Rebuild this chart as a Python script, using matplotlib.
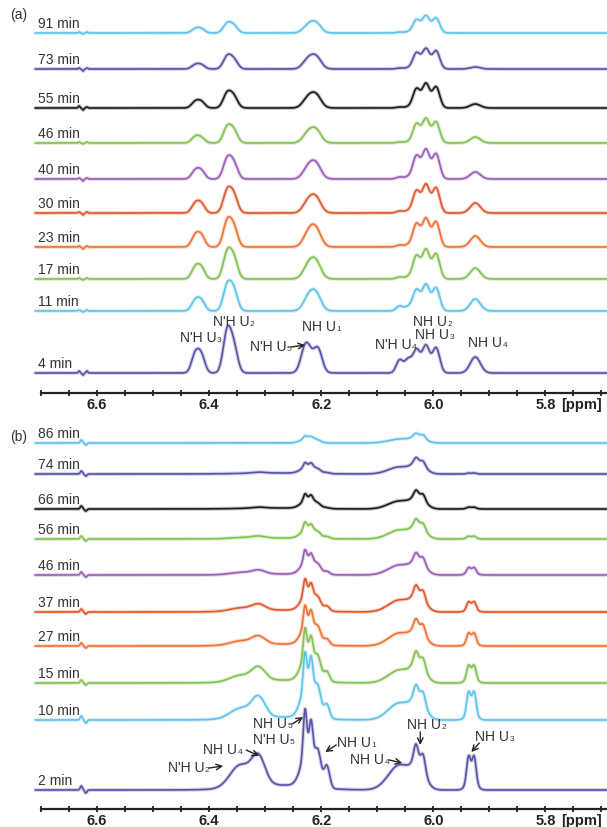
import numpy as np
import matplotlib.pyplot as plt

plt.rcParams['font.family'] = ['Liberation Sans', 'DejaVu Sans']

# ---- panel (a): peak centres [ppm], widths (sigma) and heights per spectrum
a_pos = [6.632, 6.625, 6.618, 6.425, 6.414, 6.368, 6.356, 6.228, 6.215, 6.205,
         6.060, 6.045, 6.030, 6.013, 5.995, 5.925]
a_wid = [0.0015, 0.0015, 0.0015, 0.0065, 0.0065, 0.007, 0.007, 0.008, 0.011, 0.007,
         0.006, 0.006, 0.0065, 0.0065, 0.0065, 0.009]
a_labels = ['91 min', '73 min', '55 min', '46 min', '40 min',
            '30 min', '23 min', '17 min', '11 min', '4 min']
a_91 = [1, -1, 1, 4, 4, 9, 7, 2, 11, 2, 1, 1, 13, 17, 15, 0]
a_73 = [1, -2, 1, 4, 4, 12, 9, 3, 13, 3, 1, 1, 16, 20, 18, 2]
a_55 = [2, -2, 1, 6, 6, 14, 11, 3, 14, 3, 1, 1, 19, 24, 21, 4]
a_46 = [1, -1, 1, 6, 5, 15, 12, 3, 14, 3, 1, 1, 19, 24, 21, 6]
a_40 = [1, -2, 1, 8, 8, 19, 15, 3, 17, 3, 2, 2, 23, 29, 25, 7]
a_30 = [1, -2, 1, 9, 9, 21, 17, 3, 17, 3, 2, 2, 22, 28, 25, 10]
a_23 = [1, -2, 1, 11, 11, 24, 19, 3, 21, 3, 2, 2, 23, 28, 25, 11]
a_17 = [1, -1, 1, 11, 11, 25, 20, 3, 20, 3, 2, 2, 23, 29, 25, 11]
a_11 = [1, -1, 1, 10, 10, 24, 20, 3, 20, 3, 5, 4, 21, 26, 23, 12]
a_4 = [2, -2, 2, 18, 17, 40, 25, 24, 12, 17, 13, 13, 23, 27, 25, 16]

# ---- panel (b)
b_pos = [6.628, 6.620, 6.280, 6.345, 6.312, 6.222, 6.229, 6.218, 6.205, 6.190,
         6.060, 6.026, 6.031, 6.018, 5.932, 5.937, 5.927]
b_wid = [0.002, 0.002, 0.060, 0.018, 0.012, 0.012, 0.003, 0.003, 0.005, 0.005,
         0.020, 0.012, 0.004, 0.004, 0.008, 0.0035, 0.0035]
b_labels = ['86 min', '74 min', '66 min', '56 min', '46 min',
            '37 min', '27 min', '15 min', '10 min', '2 min']
b_86 = [3, -2, 0, 0, 0, 6, 2, 1, 1, 0, 4, 6, 3, 3, 0, 0, 0]
b_74 = [3, -2, 1, 0, 1, 8, 4, 3, 2, 1, 7, 10, 5, 4, 0, 1, 1]
b_66 = [3, -2, 1, 0, 1, 10, 6, 4, 2, 1, 8, 11, 6, 5, 1, 1, 1]
b_56 = [3, -2, 1, 1, 2, 11, 7, 4, 3, 2, 9, 12, 6, 5, 1, 2, 2]
b_46 = [3, -2, 1, 2, 4, 16, 11, 6, 5, 3, 10, 13, 7, 6, 3, 5, 5]
b_37 = [3, -2, 2, 3, 6, 20, 15, 9, 7, 5, 12, 15, 9, 8, 4, 7, 7]
b_27 = [3, -2, 2, 4, 8, 24, 19, 12, 10, 6, 13, 15, 9, 8, 5, 9, 9]
b_15 = [3, -2, 3, 6, 13, 32, 26, 15, 14, 10, 13, 18, 11, 9, 7, 12, 12]
b_10 = [4, -3, 3, 10, 20, 40, 32, 24, 18, 14, 17, 20, 11, 10, 10, 20, 20]
b_2 = [4, -3, 5, 22, 28, 42, 42, 27, 22, 22, 25, 22, 17, 15, 12, 24, 24]

LB, SB, BK, GR, PU, RD, OR = ('#5ec3ec', '#5652a6', '#1a1a1a', '#82c250',
                              '#9b5cb8', '#e1572b', '#f07234')
colors = [LB, SB, BK, GR, PU, RD, OR, GR, LB, SB]

a_rows = [a_91, a_73, a_55, a_46, a_40, a_30, a_23, a_17, a_11, a_4]
b_rows = [b_86, b_74, b_66, b_56, b_46, b_37, b_27, b_15, b_10, b_2]
a_off = [360, 324, 285, 250, 214, 180, 146, 114, 82, 20]
b_off = [366, 335, 300, 270, 234, 197, 163, 126, 89, 19]

W, H = 607, 827
fig = plt.figure(figsize=(W / 100, H / 100), dpi=100)
x = np.linspace(6.71, 5.68, 2000)


def spectrum(pos, wid, hts):
    y = np.zeros_like(x)
    for p, w, h in zip(pos, wid, hts):
        y += h * np.exp(-0.5 * ((x - p) / w) ** 2)
    return y


def px2ppm(px):
    return 6.70 - (px - 41) / 560


def make_axes(top_px, axis_px):
    ax = fig.add_axes([41 / W, (H - axis_px) / H, 566 / W, (axis_px - top_px) / H])
    ax.set_xlim(6.70, 5.69)
    ax.set_ylim(0, axis_px - top_px)
    for s in ['top', 'left', 'right']:
        ax.spines[s].set_visible(False)
    ax.spines['bottom'].set_linewidth(1.6)
    ax.spines['bottom'].set_color('#222222')
    ax.set_yticks([])
    ticks = np.arange(5.70, 6.701, 0.05)
    ax.set_xticks(ticks)
    ax.set_xticklabels([f'{v:.1f}' if abs(round(v * 5) - v * 5) < 1e-6 else ''
                        for v in ticks])
    ax.tick_params(axis='x', direction='inout', length=5, width=1.3,
                   color='#222222', labelsize=10.5, pad=1, labelcolor='#222222')
    for t in ax.get_xticklabels():
        t.set_fontweight('bold')
    ax.text(5.772, -12, '[ppm]', fontsize=10.5, fontweight='bold', color='#222222',
            ha='left', va='center', clip_on=False)
    ax.patch.set_alpha(0)
    return ax


def draw(ax, pos, wid, rows, offs, labels):
    for hts, off, c, lab in zip(rows, offs, colors, labels):
        y = spectrum(pos, wid, hts) + off
        ax.plot(x, y, color=c, lw=2.8, alpha=0.25, solid_capstyle='round', clip_on=False)
        ax.plot(x, y, color=c, lw=1.2, clip_on=False)
        ax.text(6.705, off + 9, lab, fontsize=10, color='#333333',
                ha='left', va='center', clip_on=False)


def label(ax, px, py, ay, txt, sub, arrow=None):
    t = ax.text(px2ppm(px), ay - py, txt, fontsize=10, color='#333333',
                ha='left', va='center')
    ax.annotate(sub, xy=(1, 0), xycoords=t, xytext=(0.2, 0.5),
                textcoords='offset points', fontsize=6, color='#333333',
                ha='left', va='bottom')
    if arrow:
        (x0, y0), (x1, y1) = arrow
        ax.annotate('', xy=(px2ppm(x1), ay - y1), xytext=(px2ppm(x0), ay - y0),
                    arrowprops=dict(arrowstyle='->', color='#222222', lw=1.0,
                                    shrinkA=0, shrinkB=0))


ax_a = make_axes(5, 393)
draw(ax_a, a_pos, a_wid, a_rows, a_off, a_labels)
label(ax_a, 180, 338, 393, "N'H U", '3')
label(ax_a, 213, 322, 393, "N'H U", '2')
label(ax_a, 250, 347, 393, "N'H U", '5', ((291, 347), (305, 345)))
label(ax_a, 302, 327, 393, "NH U", '1')
label(ax_a, 375, 345, 393, "N'H U", '4')
label(ax_a, 413, 322, 393, "NH U", '2')
label(ax_a, 415, 335, 393, "NH U", '3')
label(ax_a, 468, 343, 393, "NH U", '4')

ax_b = make_axes(425, 809)
draw(ax_b, b_pos, b_wid, b_rows, b_off, b_labels)
label(ax_b, 168, 768, 809, "N'H U", '2', ((209, 768), (223, 766)))
label(ax_b, 203, 750, 809, "NH U", '4', ((246, 750), (259, 756)))
label(ax_b, 253, 724, 809, "NH U", '5', ((292, 724), (303, 717)))
label(ax_b, 253, 740, 809, "N'H U", '5')
label(ax_b, 337, 743, 809, "NH U", '1', ((336, 745), (325, 752)))
label(ax_b, 350, 760, 809, "NH U", '4', ((389, 760), (402, 763)))
label(ax_b, 407, 725, 809, "NH U", '2', ((420, 732), (420, 745)))
label(ax_b, 475, 737, 809, "NH U", '3', ((479, 743), (471, 752)))

fig.text(10 / W, 1 - 15 / H, '(a)', fontsize=10, color='#333333', va='center')
fig.text(10 / W, 1 - 437 / H, '(b)', fontsize=10, color='#333333', va='center')

fig.savefig('out.png', dpi=100, facecolor='white')
